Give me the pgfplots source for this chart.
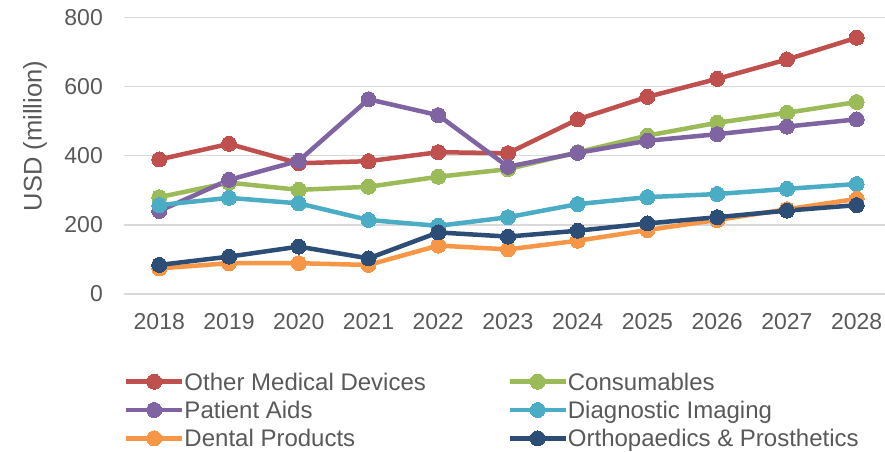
\documentclass[border=0pt]{standalone}
\usepackage{fontspec}
\setmainfont{Liberation Sans}
\usepackage{pgfplots}
\pgfplotsset{compat=1.18}

\definecolor{omd}{HTML}{C0504D}
\definecolor{cons}{HTML}{9BBB59}
\definecolor{pat}{HTML}{8064A2}
\definecolor{diag}{HTML}{4BACC6}
\definecolor{dent}{HTML}{F79646}
\definecolor{orth}{HTML}{2C4D75}
\definecolor{txtgray}{HTML}{595959}
\definecolor{gridgray}{HTML}{D9D9D9}

\pgfplotsset{
  series/.style={color=#1, line width=4.5bp, mark=*, mark size=7.5bp,
    mark options={solid, line width=0pt, fill=#1, draw=#1}},
}

\begin{document}
\begin{tikzpicture}
\path[use as bounding box] (-124bp,-158bp) rectangle (761bp,294bp);
\begin{axis}[
  at={(0,0)}, anchor=south west,
  scale only axis, width=761bp, height=276.7bp,
  xmin=2017.494, xmax=2028.406, ymin=0, ymax=800,
  xtick={2018,2019,...,2028}, ytick={0,200,...,800},
  axis line style={draw=none}, tick style={draw=none},
  major tick length=0pt,
  ymajorgrids, major grid style={gridgray, line width=1.5bp},
  /pgf/number format/assume math mode=true,
  /pgf/number format/1000 sep={},
  xticklabel style={font=\fontsize{23bp}{23bp}\selectfont, text=txtgray,
    anchor=center, inner sep=0pt, yshift=-27.7bp},
  yticklabel style={font=\fontsize{23bp}{23bp}\selectfont, text=txtgray,
    anchor=east, inner sep=0pt, xshift=-21bp},
  ylabel={USD (million)},
  ylabel style={at={(axis description cs:-0.117,0.571)}, anchor=center,
    rotate=0, font=\fontsize{25.5bp}{25.5bp}\selectfont, text=txtgray, inner sep=0pt},
  legend columns=2,
  legend image code/.code={
    \draw[#1, mark size=7.5bp, mark repeat=2, mark phase=2]
      plot coordinates {(0bp,0bp) (28bp,0bp) (56bp,0bp)};},
  legend style={draw=none, fill=none, inner sep=0pt, outer sep=0pt,
    at={(0,-0.2859)}, anchor=north west,
    row sep=11.1bp, column sep=0pt,
    /tikz/every odd column/.append style={column sep=0bp},
    /tikz/every even column/.append style={column sep=81.5bp},
    nodes={inner sep=0pt, text height=17.2bp, text depth=0pt,
      font=\fontsize{24bp}{24bp}\selectfont, text=txtgray},
    cells={anchor=west}},
]
\addplot[series=omd] coordinates {
  (2018,389) (2019,434) (2020,378) (2021,384) (2022,410) (2023,407)
  (2024,505) (2025,570) (2026,622) (2027,678) (2028,741)};
\addlegendentry{Other Medical Devices}
\addplot[series=cons] coordinates {
  (2018,280) (2019,322) (2020,301) (2021,310) (2022,339) (2023,361)
  (2024,410) (2025,458) (2026,495) (2027,524) (2028,555)};
\addlegendentry{Consumables}
\addplot[series=pat] coordinates {
  (2018,240) (2019,330) (2020,385) (2021,563) (2022,517) (2023,368)
  (2024,408) (2025,443) (2026,462) (2027,484) (2028,505)};
\addlegendentry{Patient Aids}
\addplot[series=diag] coordinates {
  (2018,257) (2019,278) (2020,262) (2021,214) (2022,197) (2023,222)
  (2024,260) (2025,280) (2026,289) (2027,304) (2028,318)};
\addlegendentry{Diagnostic Imaging}
\addplot[series=dent] coordinates {
  (2018,74) (2019,89) (2020,89) (2021,84) (2022,140) (2023,129)
  (2024,154) (2025,185) (2026,214) (2027,245) (2028,275)};
\addlegendentry{Dental Products}
\addplot[series=orth] coordinates {
  (2018,84) (2019,108) (2020,137) (2021,103) (2022,178) (2023,166)
  (2024,183) (2025,204) (2026,222) (2027,241) (2028,257)};
\addlegendentry{Orthopaedics \& Prosthetics}
\end{axis}
\end{tikzpicture}
\end{document}
